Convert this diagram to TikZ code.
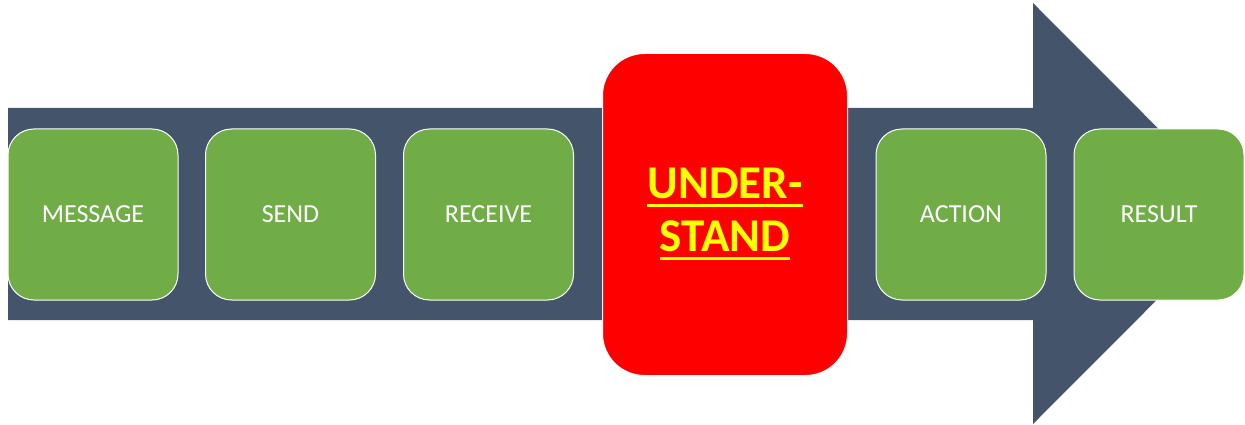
\documentclass[tikz,border=0pt]{standalone}
\usepackage{fontspec}
\setmainfont{Carlito}
\definecolor{arrowdark}{HTML}{44546A}
\definecolor{boxgreen}{HTML}{70AD47}
\definecolor{hotred}{HTML}{FF0000}
\definecolor{hotyellow}{HTML}{FFFF00}
\newcommand\myul[1]{\setbox0\hbox{#1}\rlap{\rule[-9pt]{\wd0}{3.5pt}}\box0}
\begin{document}
\begin{tikzpicture}[x=1pt,y=-1pt,
  stepbox/.style={draw=white,line width=1pt,fill=boxgreen,rounded corners=26pt,
    minimum width=170pt,minimum height=171pt,text=white,font=\fontsize{26}{30}\selectfont,inner sep=0pt},
  keybox/.style={draw=white,line width=1pt,fill=hotred,rounded corners=42pt,
    minimum width=245pt,minimum height=322pt,text=hotyellow,
    font=\bfseries\fontsize{47}{52}\selectfont,inner sep=0pt}]
\useasboundingbox (0,0) rectangle (1245,425);
\fill[arrowdark] (8,108) -- (1033,108) -- (1033,3) -- (1243,213.5) -- (1033,424) -- (1033,320) -- (8,320) -- cycle;
\node[stepbox] (message) at (93,214.5) {MESSAGE};
\node[stepbox] (send) at (290.5,214.5) {SEND};
\node[stepbox] (receive) at (488.5,214.5) {RECEIVE};
\node[keybox] (understand) at (725,214.5) {\raisebox{-18.5pt}{\begin{tabular}{@{}c@{}}\myul{UNDER-}\\[1pt]\myul{STAND}\end{tabular}}};
\node[stepbox] (action) at (961,214.5) {ACTION};
\node[stepbox] (result) at (1159,214.5) {RESULT};
\end{tikzpicture}
\end{document}
